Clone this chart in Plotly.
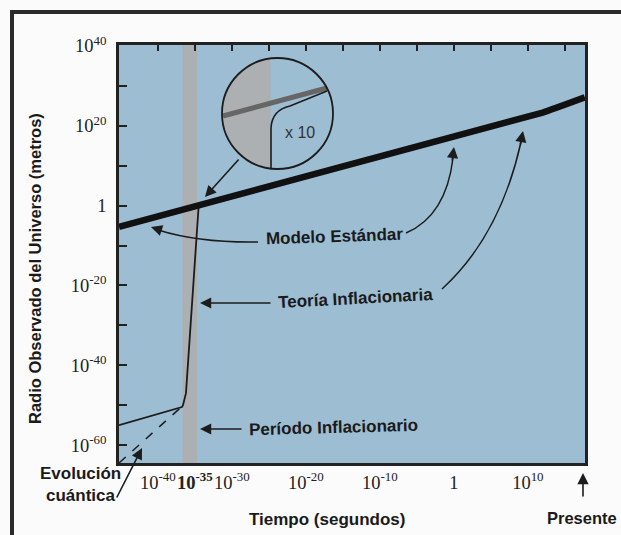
import numpy as np
import plotly.graph_objects as go

# ---------------- data ----------------
# Standard model (thick line): time (s) vs observed radius (m)
std_time = [5.6e-46, 1.0e12, 5.0e17]
std_radius = [5.0e-6, 2.0e23, 1.3e27]

# Inflationary theory (thin line)
infl_time = [5.6e-46, 1.8e-37, 2.5e-37, 3.4e-37, 6.3e-37, 3.2e-35]
infl_radius = [1.0e-55, 3.2e-51, 1.0e-50, 1.0e-49, 1.0e-47, 0.5]

# Quantum evolution (dashed)
quantum_time = [5.6e-46, 1.26e-37]
quantum_radius = [3.2e-65, 2.5e-51]

# Inflationary period (grey band), seconds
period_start = 2.0e-37
period_end = 2.0e-35

x_tickvals = [1e-40, 1e-35, 1e-30, 1e-20, 1e-10, 1, 1e10]
x_ticktext = ["10<sup>-40</sup>", "<b>10<sup>-35</sup></b>", "10<sup>-30</sup>",
              "10<sup>-20</sup>", "10<sup>-10</sup>", "1", "10<sup>10</sup>"]
x_top_ticks = [1e-40, 1e-35, 1e-30, 1e-25, 1e-20, 1e-15, 1e-10, 1e-5, 1, 1e5, 1e10, 1e15]
y_tickvals = [1e-60, 1e-50, 1e-40, 1e-30, 1e-20, 1e-10, 1, 1e10, 1e20, 1e30, 1e40]
y_ticktext = ["10<sup>-60</sup>", "", "10<sup>-40</sup>", "", "10<sup>-20</sup>", "",
              "1", "", "10<sup>20</sup>", "", "10<sup>40</sup>"]

x_range_log = [-45.25, 17.72]
y_range_log = [-64.5, 40.25]

# ---------------- style ----------------
W, H = 621, 535
L, R, T, B = 119, 585, 45, 463
BG = "#9dbdd3"
BAND = "#adb0b3"
DARK = "#1c1c1c"
SANS = "Liberation Sans, Arial, sans-serif"
SERIF = "Liberation Serif, Times New Roman, serif"


def PX(x):
    return (x - L) / (R - L)


def PY(y):
    return (B - y) / (B - T)


def path(points):
    s = "M " + " L ".join(f"{PX(x):.5f},{PY(y):.5f}" for x, y in points)
    return s


fig = go.Figure()

ymin, ymax = 10 ** y_range_log[0], 10 ** y_range_log[1]
fig.add_trace(go.Scatter(
    x=[period_start, period_end, period_end, period_start, period_start],
    y=[ymin, ymin, ymax, ymax, ymin], fill="toself", fillcolor=BAND,
    mode="none", hoverinfo="skip"))

fig.add_trace(go.Scatter(x=quantum_time, y=quantum_radius, mode="lines",
                         line=dict(color=DARK, width=1.5, dash="dash"), hoverinfo="skip"))
fig.add_trace(go.Scatter(x=infl_time, y=infl_radius, mode="lines",
                         line=dict(color=DARK, width=1.8), hoverinfo="skip"))
fig.add_trace(go.Scatter(x=std_time, y=std_radius, mode="lines",
                         line=dict(color="#111111", width=6.5, shape="spline", smoothing=0.3),
                         hoverinfo="skip"))
# dummy trace for top axis
fig.add_trace(go.Scatter(x=[1], y=[1], xaxis="x2", mode="markers",
                         marker=dict(size=1, opacity=0), hoverinfo="skip"))

shapes = []
# outer frame
shapes.append(dict(type="line", xref="paper", yref="paper", x0=PX(10), x1=PX(640),
                   y0=PY(12), y1=PY(12), line=dict(color="#2b2b2b", width=4)))
shapes.append(dict(type="line", xref="paper", yref="paper", x0=PX(12), x1=PX(12),
                   y0=PY(10), y1=PY(560), line=dict(color="#2b2b2b", width=4)))

# inset circle
cx, cy, r = 277.5, 113.5, 55.5
shapes.append(dict(type="circle", xref="paper", yref="paper", x0=PX(cx - r), x1=PX(cx + r),
                   y0=PY(cy + r), y1=PY(cy - r), fillcolor=BG, line=dict(width=0)))
chord_x = 270.7
th0 = np.arccos((chord_x - cx) / r)
thetas = np.linspace(th0, 2 * np.pi - th0, 60)
seg = [(cx + r * np.cos(t), cy + r * np.sin(t)) for t in thetas]
shapes.append(dict(type="path", xref="paper", yref="paper", path=path(seg) + " Z",
                   fillcolor=BAND, line=dict(width=0)))
shapes.append(dict(type="line", xref="paper", yref="paper", x0=PX(223), y0=PY(116),
                   x1=PX(327), y1=PY(88), line=dict(color="#666666", width=5)))
shapes.append(dict(type="path", xref="paper", yref="paper",
                   path=(f"M {PX(271)},{PY(168)} L {PX(271)},{PY(128)} "
                         f"Q {PX(272)},{PY(110)} {PX(290)},{PY(106)} L {PX(327)},{PY(91)}"),
                   line=dict(color=DARK, width=1.6)))
shapes.append(dict(type="circle", xref="paper", yref="paper", x0=PX(cx - r), x1=PX(cx + r),
                   y0=PY(cy + r), y1=PY(cy - r), line=dict(color=DARK, width=1.8)))


# curved arrow bodies
def qcurve(p0, c, p1):
    return (f"M {PX(p0[0])},{PY(p0[1])} Q {PX(c[0])},{PY(c[1])} {PX(p1[0])},{PY(p1[1])}")


shapes.append(dict(type="path", xref="paper", yref="paper",
                   path=qcurve((258, 242), (200, 243), (158, 230)), line=dict(color=DARK, width=1.5)))
shapes.append(dict(type="path", xref="paper", yref="paper",
                   path=qcurve((406, 233), (446, 216), (453, 158)), line=dict(color=DARK, width=1.5)))
shapes.append(dict(type="path", xref="paper", yref="paper",
                   path=qcurve((442, 289), (500, 236), (521, 142)), line=dict(color=DARK, width=1.5)))

annotations = []


def arrow(head, tail):
    annotations.append(dict(xref="paper", yref="paper", x=PX(head[0]), y=PY(head[1]),
                            ax=tail[0] - head[0], ay=tail[1] - head[1], text="",
                            showarrow=True, arrowhead=2, arrowsize=1.4, arrowwidth=1.6,
                            arrowcolor=DARK, standoff=0))


# curved arrowheads
arrow((151, 227), (163, 231))
arrow((454, 147), (452, 162))
arrow((523, 131), (520, 146))
# straight arrows
arrow((200, 303), (272, 303))
arrow((200, 429), (243, 429))
arrow((205, 197), (240, 158))
arrow((142, 448), (116, 499))
arrow((583, 473), (583, 498))


def label(text, x, y, size=15, angle=0, family=SANS, color="#1a1a1a"):
    annotations.append(dict(xref="paper", yref="paper", x=PX(x), y=PY(y), text=text,
                            showarrow=False, xanchor="center", yanchor="middle",
                            textangle=angle, font=dict(family=family, size=size, color=color)))


label("<b>Modelo Estándar</b>", 334, 237, size=17, angle=-2)
label("<b>Teoría Inflacionaria</b>", 355, 298, size=17, angle=-3)
label("<b>Período Inflacionario</b>", 333, 427, size=17, angle=-1.5)
label("<b>Evolución</b>", 80, 473, size=17)
label("<b>cuántica</b>", 81, 495, size=17)
label("<b>Tiempo (segundos)</b>", 327, 519, size=17)
label("<b>Presente</b>", 582, 518, size=16.5)
label("<b>Radio Observado del Universo (metros)</b>", 35, 269, size=16.5, angle=-90)
label("x 10", 300, 132, size=16, color="#333333")

fig.update_layout(
    width=W, height=H,
    margin=dict(l=L, r=W - R, t=T, b=H - B, pad=0),
    paper_bgcolor="#fbfbfb", plot_bgcolor=BG,
    showlegend=False,
    shapes=shapes, annotations=annotations,
    xaxis=dict(type="log", range=x_range_log, tickmode="array", tickvals=x_tickvals,
               ticktext=x_ticktext, ticks="", showgrid=False, zeroline=False, tickangle=0,
               showline=True, mirror=True, linecolor="#222222", linewidth=2.5,
               tickfont=dict(family=SERIF, size=18.5, color="#222222"), ticklabelstandoff=1),
    xaxis2=dict(type="log", range=x_range_log, overlaying="x", side="top", anchor="y",
                tickmode="array", tickvals=x_top_ticks, ticks="inside", ticklen=6,
                tickwidth=2, tickcolor="#222222", showticklabels=False, showgrid=False,
                zeroline=False, showline=False),
    yaxis=dict(type="log", range=y_range_log, tickmode="array", tickvals=y_tickvals,
               ticktext=y_ticktext, ticks="inside", ticklen=8, tickwidth=2,
               tickcolor="#222222", showgrid=False, zeroline=False,
               showline=True, mirror=True, linecolor="#222222", linewidth=2.5,
               tickfont=dict(family=SERIF, size=18.5, color="#222222"), ticklabelstandoff=6),
)

fig.write_html("out.html", config={"displayModeBar": False},
               post_script="document.body.style.margin='0px';document.body.style.overflow='hidden';")
